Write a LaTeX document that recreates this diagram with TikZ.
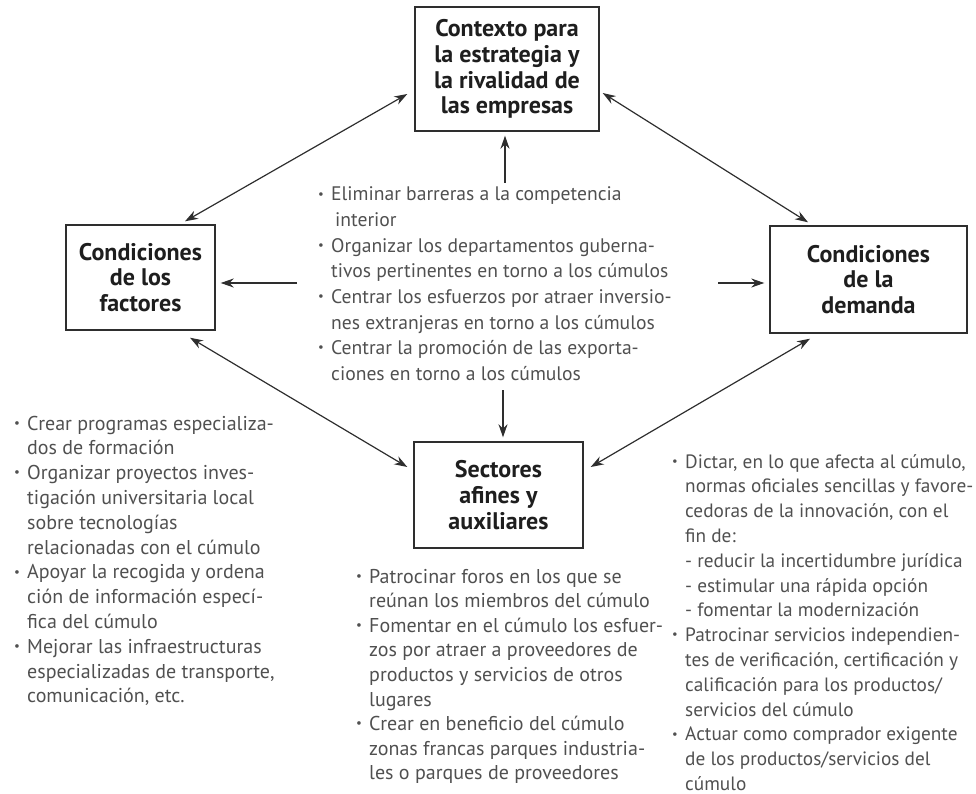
\documentclass[tikz,border=0pt]{standalone}
\usepackage{fontspec}
\usepackage{graphicx}
\setmainfont{PT Sans}
\usetikzlibrary{arrows.meta}

\definecolor{ink}{HTML}{2E2E2E}
\definecolor{title}{HTML}{1E1E1E}
\definecolor{body}{HTML}{505050}

% small raised bullet and fixed bullet column
\newcommand\bul{\makebox[13pt][l]{\raisebox{0.28ex}{\scalebox{0.65}{\textbullet}}}}

\tikzset{
  box/.style={draw=ink, line width=1.4pt, fill=white, align=center, inner sep=0pt,
    text=title, font=\bfseries\fontsize{24}{25.8}\selectfont},
  listtext/.style={inner sep=0pt, text=body, anchor=base west},
  conn/.style={draw=ink, line width=1.2pt, -{Stealth[length=13pt,width=9pt]}},
  biconn/.style={draw=ink, line width=1.2pt, {Stealth[length=13pt,width=9pt]}-{Stealth[length=13pt,width=9pt]}}
}

\begin{document}
\begin{tikzpicture}[x=1pt,y=-1pt]
\useasboundingbox (0,0) rectangle (976,794);

% the four determinants
\node[box, minimum width=184pt, minimum height=124pt] (ctx) at (507,69)
  {Contexto para\\la estrategia y\\la rivalidad de\\las empresas};
\node[box, minimum width=149pt, minimum height=105pt] (fac) at (140.5,277.5)
  {Condiciones\\de los\\factores};
\node[box, minimum width=197pt, minimum height=107pt] (dem) at (868.5,279.5)
  {Condiciones\\de la\\demanda};
\node[box, minimum width=169pt, minimum height=106pt] (sec) at (498.5,495)
  {Sectores\\afines y\\auxiliares};

% central policy list
\node[listtext, font=\fontsize{19.6}{25.6}\selectfont] (mid) at (318,201) {%
\begin{tabular}[t]{@{}l@{}l@{}}
\bul & Eliminar barreras a la competencia\\
 & \hspace{4pt}interior\\
\bul & Organizar los departamentos guberna-\\
 & tivos pertinentes en torno a los cúmulos\\
\bul & Centrar los esfuerzos por atraer inversio-\\
 & nes extranjeras en torno a los cúmulos\\
\bul & Centrar la promoción de las exporta-\\
 & ciones en torno a los cúmulos
\end{tabular}};

% factor conditions list
\node[listtext, font=\fontsize{20}{24.8}\selectfont] (lft) at (14,430) {%
\begin{tabular}[t]{@{}l@{}l@{}}
\bul & Crear programas especializa-\\
 & dos de formación\\
\bul & Organizar proyectos inves-\\
 & tigación universitaria local\\
 & sobre tecnologías\\
 & relacionadas con el cúmulo\\
\bul & Apoyar la recogida y ordena\\
 & ción de información especí-\\
 & fica del cúmulo\\
\bul & Mejorar las infraestructuras\\
 & especializadas de transporte,\\
 & comunicación, etc.
\end{tabular}};

% related and supporting industries list
\node[listtext, font=\fontsize{20}{24.6}\selectfont] (bot) at (356,583) {%
\begin{tabular}[t]{@{}l@{}l@{}}
\bul & Patrocinar foros en los que se\\
 & reúnan los miembros del cúmulo\\
\bul & Fomentar en el cúmulo los esfuer-\\
 & zos por atraer a proveedores de\\
 & productos y servicios de otros\\
 & lugares\\
\bul & Crear en beneficio del cúmulo\\
 & zonas francas parques industria-\\
 & les o parques de proveedores
\end{tabular}};

% demand conditions list
\node[listtext, font=\fontsize{19.3}{24.8}\selectfont] (rgt) at (672,468) {%
\begin{tabular}[t]{@{}l@{}l@{}}
\bul & Dictar, en lo que afecta al cúmulo,\\
 & normas oficiales sencillas y favore-\\
 & cedoras de la innovación, con el\\
 & fin de:\\
 & - reducir la incertidumbre jurídica\\
 & - estimular una rápida opción\\
 & - fomentar la modernización\\
\bul & Patrocinar servicios independien-\\
 & tes de verificación, certificación y\\
 & calificación para los productos/\\
 & servicios del cúmulo\\
\bul & Actuar como comprador exigente\\
 & de los productos/servicios del\\
 & cúmulo
\end{tabular}};

% connector end points
\coordinate (ctxW) at ([xshift=-7pt,yshift=-25pt]ctx.west);
\coordinate (ctxE) at ([xshift=3pt,yshift=-24pt]ctx.east);
\coordinate (ctxS) at ([xshift=-2pt,yshift=-4pt]ctx.south);
\coordinate (facN) at ([xshift=44.5pt,yshift=3pt]fac.north);
\coordinate (facS) at ([xshift=49.5pt,yshift=-7pt]fac.south);
\coordinate (facE) at ([xshift=5pt,yshift=-5.5pt]fac.east);
\coordinate (demN) at ([xshift=-60.5pt,yshift=3pt]dem.north);
\coordinate (demS) at ([xshift=-58.5pt,yshift=-5pt]dem.south);
\coordinate (demW) at ([xshift=-5pt,yshift=-3.5pt]dem.west);
\coordinate (secN) at ([xshift=4.5pt,yshift=4pt]sec.north);
\coordinate (secW) at ([xshift=-6pt,yshift=28pt]sec.west);
\coordinate (secE) at ([xshift=7pt,yshift=28pt]sec.east);
\coordinate (midUp) at (505,183);
\coordinate (midDown) at (503,390);
\coordinate (midLeft) at (297,283);
\coordinate (midRight) at (718,283);

% links between determinants
\draw[biconn] (ctxW) -- (facN);
\draw[biconn] (ctxE) -- (demN);
\draw[biconn] (facS) -- (secW);
\draw[biconn] (demS) -- (secE);

% government influence from the centre
\draw[conn] (midUp) -- (ctxS);
\draw[conn] (midDown) -- (secN);
\draw[conn] (midLeft) -- (facE);
\draw[conn] (midRight) -- (demW);
\end{tikzpicture}
\end{document}
